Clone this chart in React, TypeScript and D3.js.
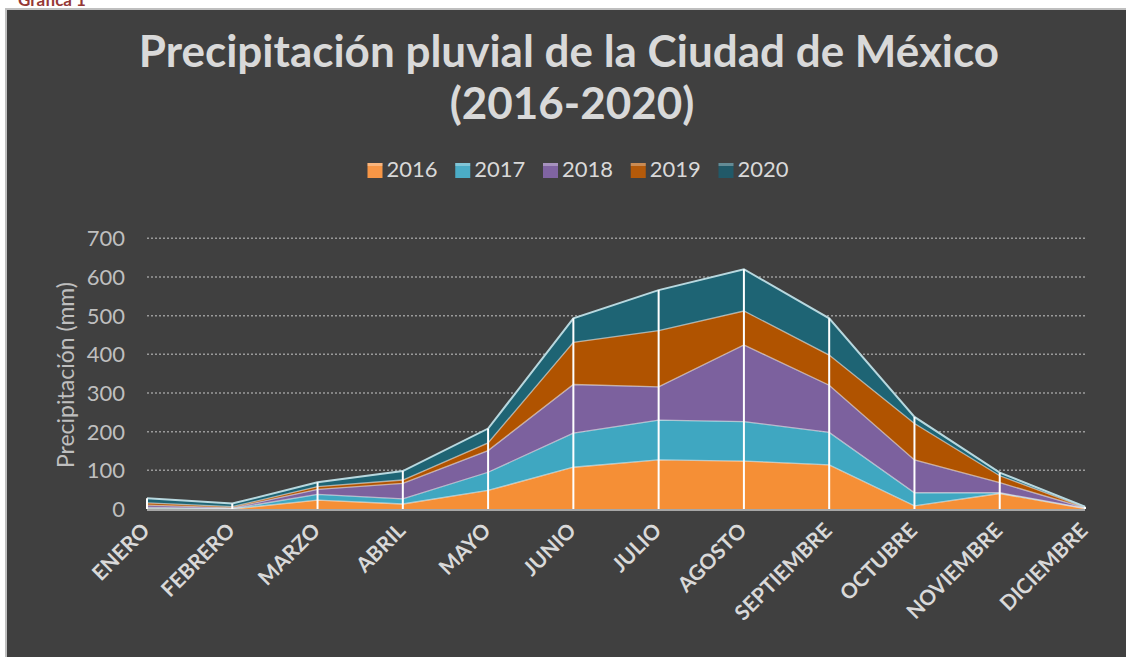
import React from "react";
import * as d3 from "d3";

// datos (mm por mes)
const months = ["ENERO", "FEBRERO", "MARZO", "ABRIL", "MAYO", "JUNIO", "JULIO", "AGOSTO", "SEPTIEMBRE", "OCTUBRE", "NOVIEMBRE", "DICIEMBRE"];
const years = ["2016", "2017", "2018", "2019", "2020"];
const p2016 = [1, 0, 23, 13, 48, 108, 127, 124, 114, 8, 40, 1];
const p2017 = [3, 1, 15, 13, 47, 88, 103, 102, 84, 34, 2, 1];
const p2018 = [6, 2, 13, 40, 56, 126, 86, 198, 122, 85, 26, 1];
const p2019 = [6, 3, 7, 9, 20, 109, 145, 88, 78, 94, 18, 1];
const p2020 = [12, 8, 11, 23, 37, 62, 105, 108, 95, 17, 8, 2];
const yTicks = [0, 100, 200, 300, 400, 500, 600, 700];
const colors = ["#f58f36", "#3fa7c1", "#7c619e", "#b05300", "#1e6474"];
const legendColors = ["#f79646", "#4bacc6", "#8064a2", "#b45a0a", "#215968"];

const series = [p2016, p2017, p2018, p2019, p2020];
const rows = months.map((m, i) => {
  const r: any = { month: m };
  years.forEach((yr, j) => (r[yr] = series[j][i]));
  return r;
});

const W = 1126;
const H = 657;

export default function App() {
  const x = d3.scalePoint<string>().domain(months).range([147, 1085]);
  const y = d3.scaleLinear().domain([0, 700]).range([509, 238.3]);
  const stacked = d3.stack<any>().keys(years)(rows);

  const area = d3
    .area<any>()
    .x((d) => x(d.data.month)!)
    .y0((d) => y(d[0]))
    .y1((d) => y(d[1]));
  const topLine = d3
    .line<any>()
    .x((d) => x(d.data.month)!)
    .y((d) => y(d[1]));

  const totals = months.map((m, i) => d3.sum(series, (s) => s[i]));
  const font = "Lato, 'Open Sans', sans-serif";

  return (
    <svg width={W} height={H} style={{ position: "absolute", left: 0, top: 0, background: "#fff" }}>
      <text x={18} y={6} fill="#953735" fontFamily={font} fontWeight="bold" fontSize={17}>
        Gráfica 1
      </text>
      <rect x={6} y={9} width={W + 10} height={H + 10} fill="#404040" stroke="#bfbfbf" strokeWidth={2} />

      <text x={569} y={67} textAnchor="middle" fill="#d9d9d9" fontFamily={font} fontWeight="bold" fontSize={44}>
        Precipitación pluvial de la Ciudad de México
      </text>
      <text x={572} y={119} textAnchor="middle" fill="#d9d9d9" fontFamily={font} fontWeight="bold" fontSize={44}>
        (2016-2020)
      </text>

      {/* leyenda */}
      {years.map((yr, i) => {
        const lx = 367.5 + i * 87.75;
        return (
          <g key={yr}>
            <rect x={lx} y={163} width={15} height={15} fill={legendColors[i]} />
            <rect x={lx} y={163} width={15} height={3} fill="#fff" opacity={0.3} />
            <text x={lx + 19} y={177} fill="#d9d9d9" fontFamily={font} fontSize={22}>
              {yr}
            </text>
          </g>
        );
      })}

      {/* rejilla */}
      {yTicks.map((t) => (
        <g key={t}>
          {t > 0 && (
            <line x1={147} x2={1085} y1={y(t)} y2={y(t)} stroke="#9a9a9a" strokeWidth={1.5} strokeDasharray="2,2" />
          )}
          <text x={125} y={y(t) + 8} textAnchor="end" fill="#bfbfbf" fontFamily={font} fontSize={22}>
            {t}
          </text>
        </g>
      ))}
      <text
        transform={`translate(74,375) rotate(-90)`}
        textAnchor="middle"
        fill="#bfbfbf"
        fontFamily={font}
        fontSize={23}
      >
        Precipitación (mm)
      </text>

      {/* áreas apiladas */}
      {stacked.map((s, i) => (
        <path key={s.key} d={area(s)!} fill={colors[i]} />
      ))}
      {stacked.map((s, i) => (
        <path
          key={"l" + s.key}
          d={topLine(s)!}
          fill="none"
          stroke={i === 4 ? "#b8d8df" : "rgba(255,255,255,0.55)"}
          strokeWidth={i === 4 ? 2 : 1.3}
        />
      ))}

      {/* líneas de caída */}
      {months.map((m, i) => (
        <line key={m} x1={x(m)} x2={x(m)} y1={y(0)} y2={y(totals[i])} stroke="#fff" strokeWidth={2} />
      ))}
      <line x1={147} x2={1085} y1={y(0) + 1} y2={y(0) + 1} stroke="#a6a6a6" strokeWidth={2} />

      {/* etiquetas del eje x */}
      {months.map((m) => (
        <text
          key={"t" + m}
          transform={`translate(${x(m)! + 4},532) rotate(-45)`}
          textAnchor="end"
          fill="#d9d9d9"
          fontFamily={font}
          fontWeight="bold"
          fontSize={21}
        >
          {m}
        </text>
      ))}
    </svg>
  );
}
